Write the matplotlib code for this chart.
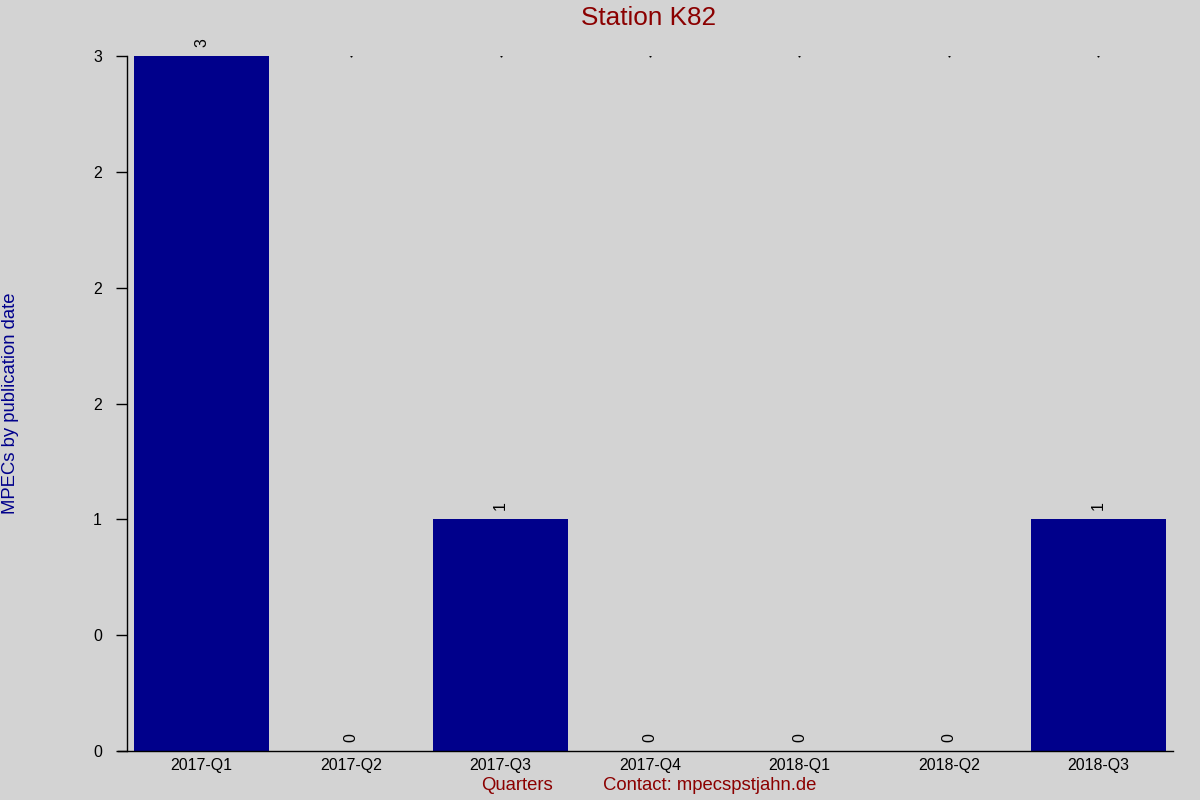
import matplotlib
matplotlib.use("Agg")
import matplotlib.pyplot as plt
import numpy as np

categories = ["2017-Q1", "2017-Q2", "2017-Q3", "2017-Q4", "2018-Q1", "2018-Q2", "2018-Q3"]
values = [3, 0, 1, 0, 0, 0, 1]
title = "Station K82"
ylabel = "MPECs by publication date"
xlabel = "Quarters"
contact = "Contact: mpecspstjahn.de"

plt.rcParams['font.family'] = ['Liberation Sans', 'DejaVu Sans']

bg = "#d3d3d3"
bar_color = "#00008b"
red = "#8b0000"

fig = plt.figure(figsize=(12, 8), dpi=100, facecolor=bg)
ax = fig.add_axes([127/1200, 1 - 751/800, (1173 - 127)/1200, (751 - 56)/800])
ax.set_facecolor(bg)

x = np.arange(len(categories))
ax.bar(x, values, width=0.9, color=bar_color, zorder=2)

ymax = max(values)
for xi, v in zip(x, values):
    ax.text(xi, v + 0.04, str(v), rotation=90, ha='center', va='bottom', fontsize=11.4, color='black')
    if v != ymax:
        ax.plot([xi], [ymax], marker='s', markersize=0.5, color='black', linestyle='none')

ax.set_xlim(-0.5, len(categories) - 0.5)
ax.set_ylim(0, ymax)
ax.set_xticks(x)
ax.set_xticklabels(categories, fontsize=11.4)
yt = np.arange(0, ymax + 0.01, 0.5)
ax.set_yticks(yt)
ax.set_yticklabels(["%.0f" % t for t in yt], fontsize=11.4)
ax.tick_params(axis='x', length=0, pad=5)
ax.tick_params(axis='y', length=8, width=1, pad=10)

for s in ['top', 'right']:
    ax.spines[s].set_visible(False)
ax.spines['left'].set_linewidth(1)
ax.spines['bottom'].set_linewidth(1)
ax.spines['bottom'].set_bounds(-0.56, len(categories) - 0.5)

fig.text(649/1200, 1 - 18/800, title, ha='center', va='center', fontsize=18.8, color=red)
fig.text(11/1200, 1 - 403/800, ylabel, ha='center', va='center', rotation=90, fontsize=13.3, color=bar_color)
fig.text(517/1200, 1 - 786/800, xlabel, ha='center', va='center', fontsize=13.3, color=red)
fig.text(710/1200, 1 - 786/800, contact, ha='center', va='center', fontsize=13.3, color=red)

fig.savefig("out.png", dpi=100, facecolor=bg)
